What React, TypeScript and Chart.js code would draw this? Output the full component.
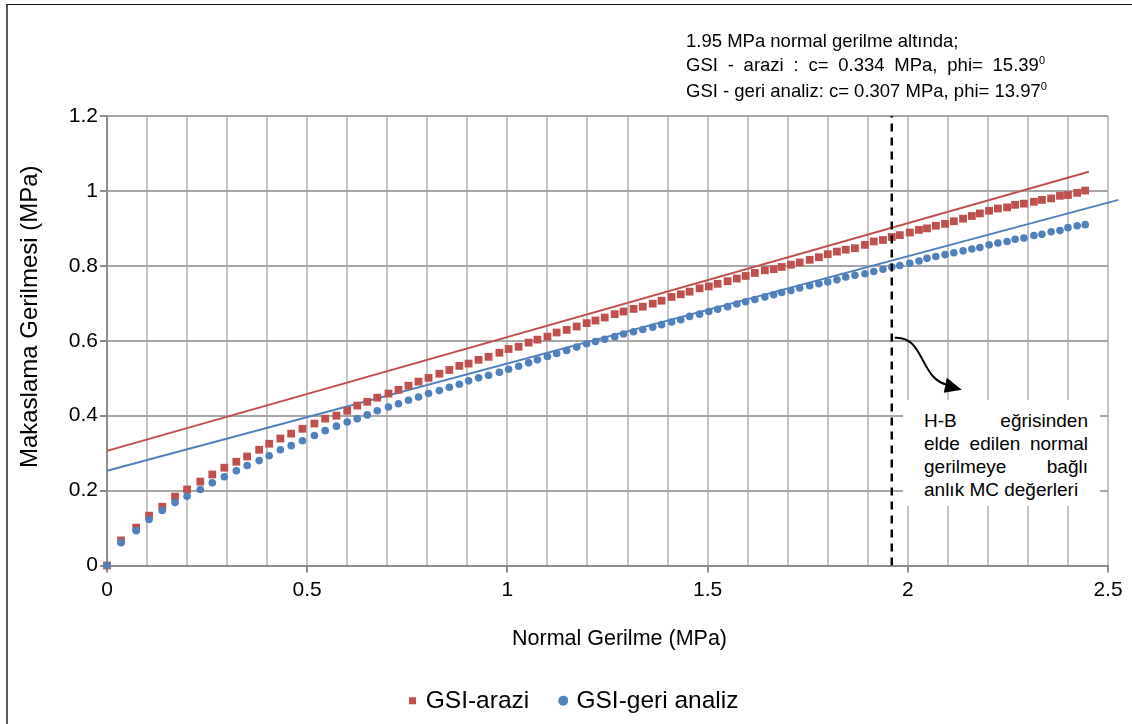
import React, { useEffect, useRef } from "react";
import { Chart, registerables } from "chart.js";

Chart.register(...registerables);

// ---------- data ----------
const normalStress = [
  0, 0.035, 0.073, 0.105, 0.138, 0.17, 0.2, 0.233, 0.263, 0.293, 0.323, 0.35, 0.38, 0.405, 0.433, 0.46, 0.488,
  0.518, 0.545, 0.573, 0.6, 0.625, 0.65, 0.675, 0.703, 0.728, 0.753, 0.778, 0.803, 0.83, 0.855, 0.88, 0.903,
  0.928, 0.953, 0.98, 1.003, 1.028, 1.053, 1.075, 1.1,
  1.123, 1.148, 1.173, 1.198, 1.22, 1.243, 1.268, 1.29, 1.315, 1.338, 1.363, 1.385, 1.41, 1.433, 1.455, 1.48,
  1.503, 1.525, 1.55, 1.573, 1.595, 1.618, 1.643, 1.665, 1.685, 1.708, 1.73, 1.755, 1.778, 1.8, 1.823,
  1.845, 1.868, 1.893, 1.915, 1.938, 1.96, 1.98, 2.005, 2.028, 2.048, 2.07, 2.093, 2.115, 2.138, 2.16, 2.18,
  2.203, 2.225, 2.248, 2.268, 2.29, 2.315, 2.335, 2.358, 2.38, 2.4, 2.423, 2.443,
];

const gsiArazi = [
  0, 0.067, 0.101, 0.133, 0.157, 0.184, 0.203, 0.224, 0.243, 0.261, 0.277, 0.291, 0.309, 0.325, 0.339, 0.352, 0.365,
  0.379, 0.392, 0.4, 0.413, 0.427, 0.437, 0.448, 0.459, 0.469, 0.48, 0.491, 0.501, 0.512, 0.522, 0.533, 0.539,
  0.549, 0.557, 0.568, 0.578, 0.584, 0.595, 0.603, 0.611,
  0.622, 0.629, 0.638, 0.647, 0.654, 0.662, 0.671, 0.678, 0.685, 0.691, 0.699, 0.707, 0.717, 0.724, 0.731, 0.74,
  0.745, 0.752, 0.759, 0.766, 0.773, 0.781, 0.788, 0.791, 0.797, 0.803, 0.809, 0.816, 0.823, 0.831, 0.838,
  0.843, 0.847, 0.856, 0.865, 0.869, 0.877, 0.882, 0.889, 0.896, 0.9, 0.907, 0.912, 0.919, 0.926, 0.933, 0.94,
  0.947, 0.953, 0.956, 0.963, 0.966, 0.971, 0.976, 0.98, 0.987, 0.989, 0.995, 1.001,
];

const gsiGeriAnaliz = [
  0, 0.061, 0.093, 0.123, 0.147, 0.168, 0.185, 0.203, 0.221, 0.237, 0.253, 0.267, 0.28, 0.293, 0.309, 0.32, 0.333,
  0.347, 0.36, 0.372, 0.383, 0.392, 0.402, 0.413, 0.423, 0.432, 0.441, 0.45, 0.459, 0.467, 0.476, 0.484, 0.493,
  0.501, 0.508, 0.516, 0.524, 0.532, 0.541, 0.549, 0.558,
  0.566, 0.574, 0.583, 0.592, 0.598, 0.604, 0.611, 0.618, 0.624, 0.63, 0.636, 0.643, 0.65, 0.656, 0.665, 0.671,
  0.678, 0.684, 0.691, 0.698, 0.704, 0.71, 0.717, 0.723, 0.729, 0.734, 0.741, 0.747, 0.752, 0.757, 0.763,
  0.77, 0.775, 0.779, 0.785, 0.791, 0.797, 0.801, 0.807, 0.813, 0.82, 0.825, 0.83, 0.835, 0.84, 0.845, 0.849,
  0.856, 0.861, 0.865, 0.871, 0.874, 0.881, 0.884, 0.891, 0.894, 0.902, 0.907, 0.91,
];

// Mohr-Coulomb straight lines (end points)
const araziLineX = [0, 2.452];
const araziLineY = [0.306, 1.051];
const geriLineX = [0, 2.526];
const geriLineY = [0.253, 0.976];

// vertical dashed marker at the 1.95 MPa normal stress
const markerX = [1.96, 1.96];
const markerY = [0, 1.2];

// arrow anchor (data units)
const arrowAnchor = [1.96, 0.608];

const xTickLabels = ["0", "0.5", "1", "1.5", "2", "2.5"];
const yTickLabels = ["0", "0.2", "0.4", "0.6", "0.8", "1", "1.2"];

const seriesNames = ["GSI-arazi", "GSI-geri analiz"];
const xTitle = "Normal Gerilme (MPa)";
const yTitle = "Makaslama Gerilmesi (MPa)";

// ---------- styles ----------
const RED = "#C0504D";
const BLUE = "#4F81BD";
const FONT = '"Liberation Sans", Arial, sans-serif';
const LEGEND_SHIFT = 21;

const toXY = (xs: number[], ys: number[]) => xs.map((x, i) => ({ x, y: ys[i] }));

export default function App() {
  const canvasRef = useRef<HTMLCanvasElement | null>(null);

  useEffect(() => {
    const canvas = canvasRef.current;
    if (!canvas) return;
    Chart.defaults.font.family = FONT;

    const arrowPlugin = {
      id: "hbArrow",
      afterDatasetsDraw(chart: any) {
        const { ctx, scales } = chart;
        const sx = scales.x.getPixelForValue(arrowAnchor[0]);
        const sy = scales.y.getPixelForValue(arrowAnchor[1]);
        ctx.save();
        ctx.strokeStyle = "#000";
        ctx.fillStyle = "#000";
        ctx.lineWidth = 2;
        ctx.beginPath();
        ctx.moveTo(sx + 3, sy);
        ctx.bezierCurveTo(sx + 33, sy - 2, sx + 28, sy + 42, sx + 56, sy + 47);
        ctx.stroke();
        ctx.beginPath();
        ctx.moveTo(sx + 70, sy + 52);
        ctx.lineTo(sx + 55, sy + 40);
        ctx.lineTo(sx + 52, sy + 55);
        ctx.closePath();
        ctx.fill();
        ctx.restore();
      },
    };

    // axis titles, placed like the spreadsheet's (slightly off the plot centre)
    const axisTitlePlugin = {
      id: "axisTitles",
      afterDraw(chart: any) {
        const { ctx, chartArea } = chart;
        const cx = (chartArea.left + chartArea.right) / 2;
        const cy = (chartArea.top + chartArea.bottom) / 2;
        ctx.save();
        ctx.fillStyle = "#000";
        ctx.textAlign = "center";
        ctx.textBaseline = "middle";
        ctx.font = `21.5px ${FONT}`;
        ctx.fillText(xTitle, cx + 12, chartArea.bottom + 74);
        ctx.translate(30, cy - 24);
        ctx.rotate(-Math.PI / 2);
        ctx.font = `24px ${FONT}`;
        ctx.fillText(yTitle, 0, 0);
        ctx.restore();
      },
    };

    const legendShiftPlugin = {
      id: "legendShift",
      afterLayout(chart: any) {
        const l = chart.legend;
        if (l) {
          l.left += LEGEND_SHIFT;
          l.right += LEGEND_SHIFT;
        }
      },
    };

    const isMajorX = (v: number) => Math.round(v * 10) % 5 === 0;

    const chart = new Chart(canvas, {
      type: "scatter",
      data: {
        datasets: [
          {
            label: seriesNames[1],
            data: toXY(normalStress, gsiGeriAnaliz),
            pointStyle: "circle",
            pointRadius: 3.8,
            pointHoverRadius: 3.8,
            pointBorderWidth: 0,
            backgroundColor: BLUE,
            borderColor: BLUE,
            clip: false,
          },
          {
            label: seriesNames[0],
            data: toXY(normalStress, gsiArazi),
            pointStyle: "rect",
            pointRadius: 5.5,
            pointHoverRadius: 5.5,
            pointBorderWidth: 0,
            backgroundColor: RED,
            borderColor: RED,
            clip: false,
          },
          {
            label: "MC arazi",
            data: toXY(araziLineX, araziLineY),
            showLine: true,
            borderColor: RED,
            borderWidth: 2,
            pointRadius: 0,
            clip: false,
          },
          {
            label: "MC geri analiz",
            data: toXY(geriLineX, geriLineY),
            showLine: true,
            borderColor: BLUE,
            borderWidth: 2,
            pointRadius: 0,
            clip: false,
          },
          {
            label: "1.95 MPa",
            data: toXY(markerX, markerY),
            showLine: true,
            borderColor: "#000",
            borderWidth: 2.5,
            borderDash: [8, 6],
            pointRadius: 0,
            order: -1,
          },
        ] as any,
      },
      options: {
        responsive: false,
        animation: false,
        devicePixelRatio: 1,
        events: [],
        layout: { padding: { top: 116, right: 24, bottom: 1, left: 0 } },
        plugins: {
          tooltip: { enabled: false },
          title: { display: false },
          legend: {
            display: true,
            position: "bottom",
            labels: {
              usePointStyle: true,
              boxWidth: 2,
              boxHeight: 7,
              padding: 33,
              color: "#000",
              font: { size: 24.5, family: FONT },
              filter: (item: any) => seriesNames.includes(item.text),
              sort: (a: any, b: any) => seriesNames.indexOf(a.text) - seriesNames.indexOf(b.text),
            },
          },
        },
        scales: {
          x: {
            type: "linear",
            min: 0,
            max: 2.5,
            afterFit: (s: any) => {
              s.height = 90;
            },
            ticks: {
              stepSize: 0.1,
              autoSkip: false,
              maxRotation: 0,
              minRotation: 0,
              padding: 5,
              color: "#000",
              font: { size: 21, family: FONT },
              callback: (v: any) => (isMajorX(Number(v)) ? xTickLabels[Math.round(Number(v) * 2)] : ""),
            },
            grid: {
              color: "#C4C4C4",
              lineWidth: 2,
              tickLength: 7,
              tickWidth: 2,
              tickColor: (c: any) => (c.tick && isMajorX(c.tick.value) ? "#8C8C8C" : "rgba(0,0,0,0)"),
            },
            border: { display: true, color: "#8C8C8C", width: 2 },
            title: { display: false, text: xTitle },
          },
          y: {
            type: "linear",
            min: 0,
            max: 1.2,
            afterFit: (s: any) => {
              s.width = 107;
            },
            ticks: {
              stepSize: 0.2,
              padding: 2,
              color: "#000",
              font: { size: 21, family: FONT },
              callback: (v: any) => yTickLabels[Math.round(Number(v) * 5)] ?? "",
            },
            grid: {
              color: "#A6A6A6",
              lineWidth: 2,
              tickLength: 7,
              tickWidth: 2,
              tickColor: "#8C8C8C",
            },
            border: { display: true, color: "#8C8C8C", width: 2 },
            title: { display: false, text: yTitle },
          },
        },
      },
      plugins: [arrowPlugin, axisTitlePlugin, legendShiftPlugin],
    } as any);

    return () => chart.destroy();
  }, []);

  const supStyle: React.CSSProperties = { fontSize: 11, position: "relative", top: -7 };

  return (
    <div
      style={{
        position: "absolute",
        left: 0,
        top: 0,
        width: 1132,
        height: 724,
        background: "#fff",
        overflow: "hidden",
        fontFamily: FONT,
      }}
    >
      <canvas
        ref={canvasRef}
        width={1132}
        height={724}
        style={{ position: "absolute", left: 0, top: 0, width: 1132, height: 724 }}
      />
      <div
        style={{
          position: "absolute",
          left: 6,
          top: 4,
          width: 1200,
          height: 800,
          borderTop: "1.5px solid #111",
          borderLeft: "2px solid #5a5a5a",
          pointerEvents: "none",
        }}
      />
      <div
        style={{
          position: "absolute",
          left: 686,
          top: 29,
          fontSize: 18.5,
          lineHeight: "24px",
          color: "#000",
          whiteSpace: "nowrap",
        }}
      >
        <div>1.95 MPa normal gerilme altında;</div>
        <div style={{ width: 359, textAlign: "justify", textAlignLast: "justify" }}>
          GSI - arazi : c= 0.334 MPa, phi= 15.39<span style={supStyle}>0</span>
        </div>
        <div>
          GSI - geri analiz: c= 0.307 MPa, phi= 13.97<span style={supStyle}>0</span>
        </div>
      </div>
      <div
        style={{
          position: "absolute",
          left: 903,
          top: 400,
          width: 197,
          height: 106,
          background: "#fff",
          boxSizing: "border-box",
          padding: "9px 12px 0 21px",
        }}
      >
        <div
          style={{
            width: 164,
            fontSize: 19,
            lineHeight: "23px",
            color: "#000",
            textAlign: "justify",
          }}
        >
          H-B eğrisinden elde edilen normal gerilmeye bağlı anlık MC değerleri
        </div>
      </div>
    </div>
  );
}
